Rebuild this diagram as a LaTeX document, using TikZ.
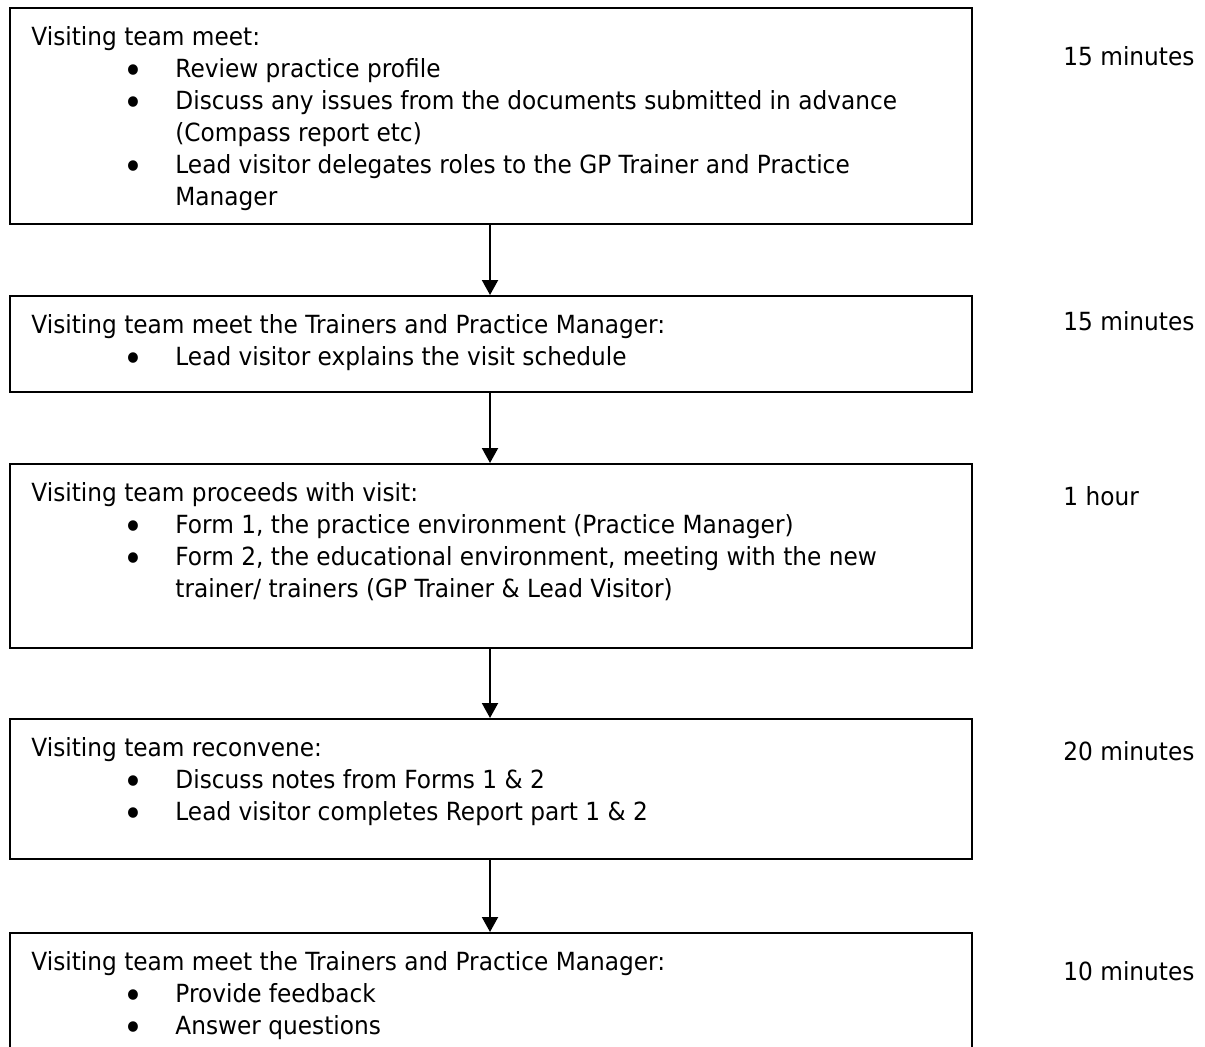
\documentclass[tikz,border=0pt]{standalone}
\usepackage{fontspec}
\setmainfont{DejaVu Sans}[FakeStretch=0.93]
\usetikzlibrary{arrows.meta, positioning}

\newcommand{\bul}{\hspace*{51pt}\makebox[0pt][c]{\smash{\raisebox{-3.2pt}{\scalebox{1.45}{\textbullet}}}}\hspace*{21pt}}
\newcommand{\ind}{\hspace*{72pt}}

\begin{document}
\begin{tikzpicture}[x=0.5pt, y=-0.5pt,
    font=\fontsize{12.5}{16}\selectfont,
    stagebox/.style={draw, line width=0.8pt, anchor=north west, inner sep=0pt, minimum width=481pt},
    stagetext/.style={anchor=base west, inner sep=0pt},
    timetext/.style={anchor=base west, inner sep=0pt},
    flow/.style={line width=1pt, -{Triangle[width=8pt, length=7.5pt]}}]
    \clip (0,0) rectangle (1205,1046);
    % boxes
    \node[stagebox, minimum height=108pt] (meet) at (9,7) {};
    \node[stagebox, minimum height=48pt] (brief) at (9,295) {};
    \node[stagebox, minimum height=92pt] (visit) at (9,463) {};
    \node[stagebox, minimum height=70pt] (reconvene) at (9,718) {};
    \node[stagebox, minimum height=64pt] (feedback) at (9,932) {};
    % box texts
    \node[stagetext] (meettext) at (31,45) {\parbox[t]{470pt}{%
        Visiting team meet:\\
        \bul Review practice profile\\
        \bul Discuss any issues from the documents submitted in advance\\
        \ind (Compass report etc)\\
        \bul Lead visitor delegates roles to the GP Trainer and Practice\\
        \ind Manager}};
    \node[stagetext] (brieftext) at (31,333) {\parbox[t]{470pt}{%
        Visiting team meet the Trainers and Practice Manager:\\
        \bul Lead visitor explains the visit schedule}};
    \node[stagetext] (visittext) at (31,501) {\parbox[t]{470pt}{%
        Visiting team proceeds with visit:\\
        \bul Form 1, the practice environment (Practice Manager)\\
        \bul Form 2, the educational environment, meeting with the new\\
        \ind trainer/ trainers (GP Trainer \& Lead Visitor)}};
    \node[stagetext] (reconvenetext) at (31,756) {\parbox[t]{470pt}{%
        Visiting team reconvene:\\
        \bul Discuss notes from Forms 1 \& 2\\
        \bul Lead visitor completes Report part 1 \& 2}};
    \node[stagetext] (feedbacktext) at (31,970) {\parbox[t]{470pt}{%
        Visiting team meet the Trainers and Practice Manager:\\
        \bul Provide feedback\\
        \bul Answer questions}};
    % times
    \node[timetext] (meettime) at (1063,65) {15 minutes};
    \node[timetext] (brieftime) at (1063,330) {15 minutes};
    \node[timetext] (visittime) at (1063,505) {1 hour};
    \node[timetext] (reconvenetime) at (1063,760) {20 minutes};
    \node[timetext] (feedbacktime) at (1063,980) {10 minutes};
    % arrows
    \draw[flow] (meet.south -| 490,0) -- (brief.north -| 490,0);
    \draw[flow] (brief.south -| 490,0) -- (visit.north -| 490,0);
    \draw[flow] (visit.south -| 490,0) -- (reconvene.north -| 490,0);
    \draw[flow] (reconvene.south -| 490,0) -- (feedback.north -| 490,0);
\end{tikzpicture}
\end{document}
